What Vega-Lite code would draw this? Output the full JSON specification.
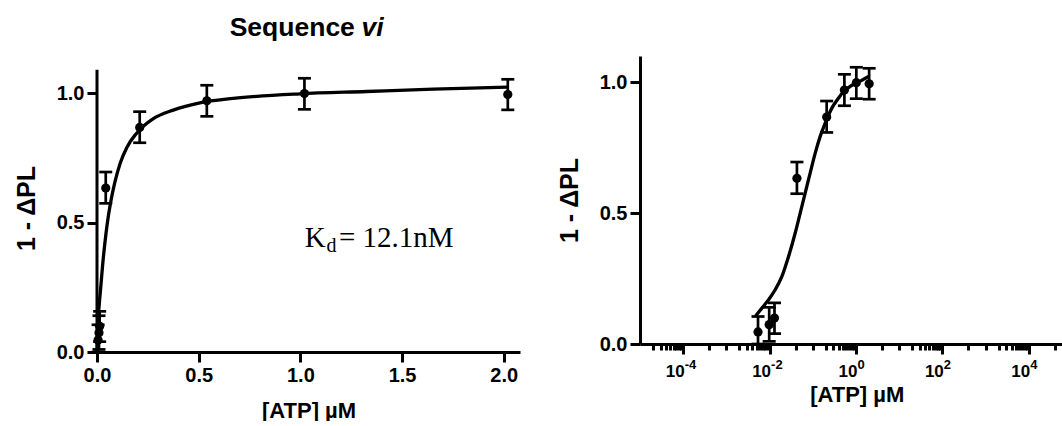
{
  "$schema": "https://vega.github.io/schema/vega-lite/v6.json",
  "background": "white",
  "padding": {"left": 14, "top": 15, "right": 0, "bottom": 0},
  "bounds": "flush",
  "spacing": 120,
  "config": {
    "view": {"stroke": null},
    "font": "Liberation Sans",
    "axis": {
      "grid": false,
      "domainColor": "black",
      "domainWidth": 3,
      "tickColor": "black",
      "tickWidth": 3,
      "tickSize": 10,
      "labelColor": "black",
      "titleColor": "black",
      "labelFont": "Liberation Sans",
      "titleFont": "Liberation Sans",
      "labelFontWeight": "bold",
      "titleFontWeight": "bold",
      "labelFontSize": 20,
      "titleFontSize": 22,
      "labelPadding": 3,
      "labelFlush": false,
      "labelOverlap": false
    }
  },
  "datasets": {
    "curve": [
      {"x": 0, "y": 0},
      {"x": 0.00464, "y": 0.105},
      {"x": 0.00664, "y": 0.137},
      {"x": 0.00948, "y": 0.169},
      {"x": 0.0135, "y": 0.207},
      {"x": 0.0193, "y": 0.258},
      {"x": 0.0275, "y": 0.334},
      {"x": 0.0392, "y": 0.424},
      {"x": 0.0512, "y": 0.5},
      {"x": 0.0667, "y": 0.576},
      {"x": 0.087, "y": 0.653},
      {"x": 0.114, "y": 0.729},
      {"x": 0.148, "y": 0.792},
      {"x": 0.194, "y": 0.844},
      {"x": 0.277, "y": 0.901},
      {"x": 0.375, "y": 0.934},
      {"x": 0.506, "y": 0.962},
      {"x": 0.67, "y": 0.979},
      {"x": 0.997, "y": 0.997},
      {"x": 1.325, "y": 1.006},
      {"x": 1.653, "y": 1.015},
      {"x": 2.02, "y": 1.023}
    ],
    "pts": [
      {"x": 0.0054, "y": 0.046, "lo": 0.0, "hi": 0.105},
      {"x": 0.0098, "y": 0.074, "lo": 0.01, "hi": 0.14},
      {"x": 0.013, "y": 0.099, "lo": 0.04, "hi": 0.157},
      {"x": 0.043, "y": 0.633, "lo": 0.574, "hi": 0.695},
      {"x": 0.21, "y": 0.867, "lo": 0.808, "hi": 0.928},
      {"x": 0.54, "y": 0.97, "lo": 0.91, "hi": 1.03},
      {"x": 1.02, "y": 0.998, "lo": 0.937, "hi": 1.057},
      {"x": 2.02, "y": 0.994, "lo": 0.935, "hi": 1.053}
    ]
  },
  "hconcat": [
    {
      "width": 423,
      "height": 296,
      "layer": [
        {
          "data": {"name": "curve"},
          "mark": {"type": "line", "color": "black", "strokeWidth": 3.3, "interpolate": "monotone"},
          "encoding": {
            "x": {
              "field": "x", "type": "quantitative", "title": "[ATP] µM",
              "scale": {"domain": [0, 2.08], "nice": false, "zero": false},
              "axis": {"values": [0, 0.5, 1, 1.5, 2], "format": ".1f", "titlePadding": 15}
            },
            "y": {
              "field": "y", "type": "quantitative", "title": "1 - ΔPL",
              "scale": {"domain": [0, 1.143], "nice": false, "zero": false},
              "axis": {"values": [0, 0.5, 1], "format": ".1f", "domain": false, "titleFontSize": 25, "titlePadding": 17, "titleY": 152}
            }
          }
        },
        {
          "data": {"values": [{}]},
          "mark": {"type": "rule", "color": "black", "strokeWidth": 3},
          "encoding": {
            "x": {"datum": 0, "type": "quantitative"},
            "y": {"datum": 0, "type": "quantitative"},
            "y2": {"datum": 1.09}
          }
        },
        {
          "data": {"name": "pts"},
          "mark": {"type": "rule", "color": "black", "strokeWidth": 2.7},
          "encoding": {
            "x": {"field": "x", "type": "quantitative", "title": "[ATP] µM", "scale": {"domain": [0, 2.08], "nice": false, "zero": false}},
            "y": {"field": "lo", "type": "quantitative", "title": "1 - ΔPL", "scale": {"domain": [0, 1.143], "nice": false, "zero": false}},
            "y2": {"field": "hi"}
          }
        },
        {
          "data": {"name": "pts"},
          "mark": {"type": "tick", "orient": "horizontal", "size": 13, "thickness": 2.7, "color": "black", "opacity": 1},
          "encoding": {
            "x": {"field": "x", "type": "quantitative", "title": "[ATP] µM", "scale": {"domain": [0, 2.08], "nice": false, "zero": false}},
            "y": {"field": "hi", "type": "quantitative", "title": "1 - ΔPL", "scale": {"domain": [0, 1.143], "nice": false, "zero": false}}
          }
        },
        {
          "data": {"name": "pts"},
          "mark": {"type": "tick", "orient": "horizontal", "size": 13, "thickness": 2.7, "color": "black", "opacity": 1},
          "encoding": {
            "x": {"field": "x", "type": "quantitative", "title": "[ATP] µM", "scale": {"domain": [0, 2.08], "nice": false, "zero": false}},
            "y": {"field": "lo", "type": "quantitative", "title": "1 - ΔPL", "scale": {"domain": [0, 1.143], "nice": false, "zero": false}}
          }
        },
        {
          "data": {"name": "pts"},
          "mark": {"type": "circle", "color": "black", "opacity": 1, "size": 85},
          "encoding": {
            "x": {"field": "x", "type": "quantitative", "title": "[ATP] µM", "scale": {"domain": [0, 2.08], "nice": false, "zero": false}},
            "y": {"field": "y", "type": "quantitative", "title": "1 - ΔPL", "scale": {"domain": [0, 1.143], "nice": false, "zero": false}}
          }
        },
        {
          "data": {"values": [{}]},
          "mark": {"type": "text", "text": "Sequence", "font": "Liberation Sans", "fontWeight": "bold", "fontSize": 26.5, "align": "right", "baseline": "alphabetic", "color": "black"},
          "encoding": {"x": {"datum": 1.268, "type": "quantitative"}, "y": {"datum": 1.22, "type": "quantitative"}}
        },
        {
          "data": {"values": [{}]},
          "mark": {"type": "text", "text": "vi", "font": "Liberation Sans", "fontWeight": "bold", "fontStyle": "italic", "fontSize": 26.5, "align": "left", "baseline": "alphabetic", "color": "black"},
          "encoding": {"x": {"datum": 1.301, "type": "quantitative"}, "y": {"datum": 1.22, "type": "quantitative"}}
        },
        {
          "data": {"values": [{}]},
          "mark": {"type": "text", "text": "K", "font": "Liberation Serif", "fontSize": 29, "align": "left", "baseline": "alphabetic", "color": "black"},
          "encoding": {"x": {"datum": 1.022, "type": "quantitative"}, "y": {"datum": 0.405, "type": "quantitative"}}
        },
        {
          "data": {"values": [{}]},
          "mark": {"type": "text", "text": "d", "font": "Liberation Serif", "fontSize": 20, "align": "left", "baseline": "alphabetic", "color": "black"},
          "encoding": {"x": {"datum": 1.128, "type": "quantitative"}, "y": {"datum": 0.386, "type": "quantitative"}}
        },
        {
          "data": {"values": [{}]},
          "mark": {"type": "text", "text": "= 12.1nM", "font": "Liberation Serif", "fontSize": 29, "align": "left", "baseline": "alphabetic", "color": "black"},
          "encoding": {"x": {"datum": 1.19, "type": "quantitative"}, "y": {"datum": 0.405, "type": "quantitative"}}
        }
      ]
    },
    {
      "width": 422,
      "height": 288,
      "resolve": {"axis": {"x": "independent"}},
      "layer": [
        {
          "data": {"name": "curve"},
          "transform": [{"filter": "datum.x > 0"}],
          "mark": {"type": "line", "color": "black", "strokeWidth": 3.3, "interpolate": "monotone"},
          "encoding": {
            "x": {
              "field": "x", "type": "quantitative", "title": "[ATP] µM",
              "scale": {"type": "log", "domain": [0.00001, 59000], "nice": false},
              "axis": {
                "orient": "bottom",
                "values": [0.00002, 0.00003, 0.00004, 0.00005, 0.00006, 0.00007, 0.00008, 0.00009, 0.0001, 0.0004, 0.001, 0.002, 0.003, 0.004, 0.005, 0.006, 0.007, 0.008, 0.009, 0.01, 0.04, 0.1, 0.2, 0.3, 0.4, 0.5, 0.6, 0.7, 0.8, 0.9, 1, 4, 10, 20, 30, 40, 50, 60, 70, 80, 90, 100, 400, 1000, 2000, 3000, 4000, 5000, 6000, 7000, 8000, 9000, 10000, 40000],
                "labelExpr": "abs(log(datum.value)/LN10 - 2*round(log(datum.value)/LN10/2)) < 0.001 ? '10' : ''",
                "tickSize": {"condition": {"test": "abs(log(datum.value)/LN10 - 2*round(log(datum.value)/LN10/2)) < 0.001", "value": 10}, "value": 6},
                "labelFontSize": 17,
                "labelAlign": "right",
                "labelOffset": 1,
                "labelPadding": 9,
                "titlePadding": 5,
                "titleX": 216.7
              }
            },
            "y": {
              "field": "y", "type": "quantitative", "title": "1 - ΔPL",
              "scale": {"domain": [0, 1.1], "nice": false, "zero": false},
              "axis": {"values": [0, 0.5, 1], "format": ".1f", "titleFontSize": 25, "titlePadding": 17}
            }
          }
        },
        {
          "data": {"name": "pts"},
          "mark": {"type": "rule", "color": "black", "strokeWidth": 2.7},
          "encoding": {
            "x": {"field": "x", "type": "quantitative", "axis": null, "scale": {"type": "log", "domain": [0.00001, 59000], "nice": false}},
            "y": {"field": "lo", "type": "quantitative", "title": "1 - ΔPL", "scale": {"domain": [0, 1.1], "nice": false, "zero": false}},
            "y2": {"field": "hi"}
          }
        },
        {
          "data": {"name": "pts"},
          "mark": {"type": "tick", "orient": "horizontal", "size": 13, "thickness": 2.7, "color": "black", "opacity": 1},
          "encoding": {
            "x": {"field": "x", "type": "quantitative", "axis": null, "scale": {"type": "log", "domain": [0.00001, 59000], "nice": false}},
            "y": {"field": "hi", "type": "quantitative", "title": "1 - ΔPL", "scale": {"domain": [0, 1.1], "nice": false, "zero": false}}
          }
        },
        {
          "data": {"name": "pts"},
          "mark": {"type": "tick", "orient": "horizontal", "size": 13, "thickness": 2.7, "color": "black", "opacity": 1},
          "encoding": {
            "x": {"field": "x", "type": "quantitative", "axis": null, "scale": {"type": "log", "domain": [0.00001, 59000], "nice": false}},
            "y": {"field": "lo", "type": "quantitative", "title": "1 - ΔPL", "scale": {"domain": [0, 1.1], "nice": false, "zero": false}}
          }
        },
        {
          "data": {"name": "pts"},
          "mark": {"type": "circle", "color": "black", "opacity": 1, "size": 85},
          "encoding": {
            "x": {
              "field": "x", "type": "quantitative",
              "scale": {"type": "log", "domain": [0.00001, 59000], "nice": false},
              "axis": {
                "orient": "bottom",
                "values": [0.0001, 0.01, 1, 100, 10000],
                "labelExpr": "datum.value < 0.001 ? '-4' : datum.value < 0.1 ? '-2' : datum.value < 10 ? '0' : datum.value < 1000 ? '2' : '4'",
                "ticks": false,
                "domain": false,
                "title": null,
                "labelFontSize": 13,
                "labelAlign": "left",
                "labelOffset": 1,
                "labelPadding": 14
              }
            },
            "y": {"field": "y", "type": "quantitative", "title": "1 - ΔPL", "scale": {"domain": [0, 1.1], "nice": false, "zero": false}}
          }
        }
      ]
    }
  ]
}
